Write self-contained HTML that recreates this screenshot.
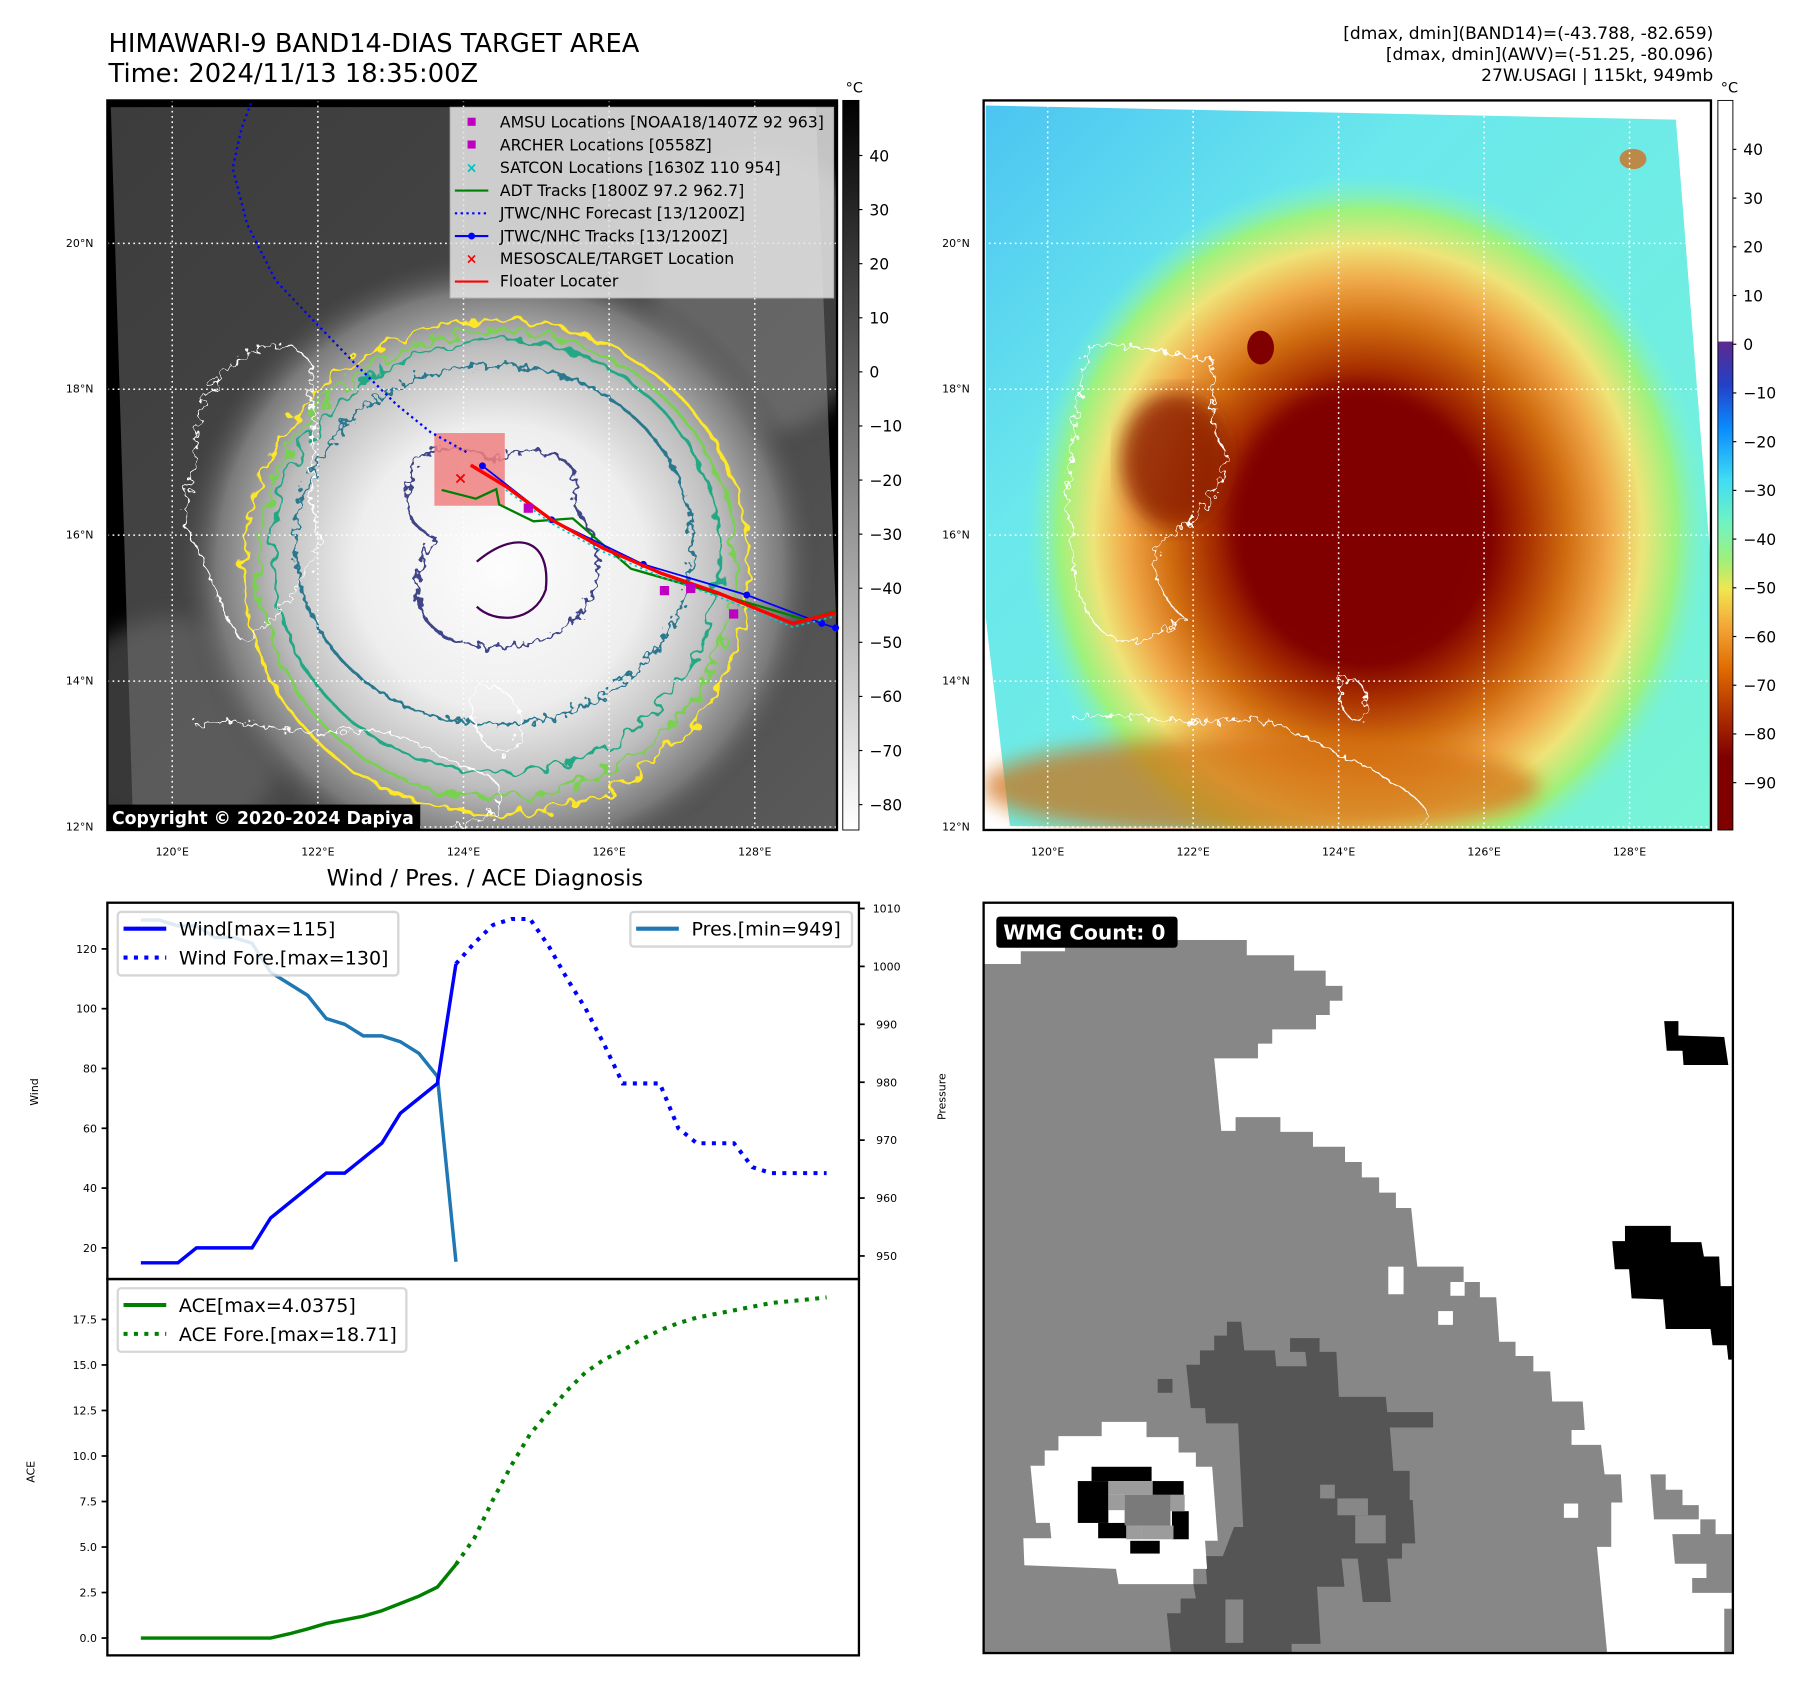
<!DOCTYPE html>
<html><head><meta charset="utf-8"><title>HIMAWARI-9 BAND14 Diagnosis</title>
<style>html,body{margin:0;padding:0;background:#fff;}svg{display:block;font-family:"DejaVu Sans","Liberation Sans",sans-serif;}</style>
</head><body>
<svg id="fig" xmlns="http://www.w3.org/2000/svg" width="1801" height="1690" viewBox="0 0 1560 1464" preserveAspectRatio="none">
<defs>
  <filter id="wavy" x="-10%" y="-10%" width="120%" height="120%">
    <feTurbulence type="fractalNoise" baseFrequency="0.035" numOctaves="2" seed="3"/>
    <feDisplacementMap in="SourceGraphic" scale="40"/>
  </filter>
  <filter id="wavy2" x="-10%" y="-10%" width="120%" height="120%">
    <feTurbulence type="fractalNoise" baseFrequency="0.07" numOctaves="2" seed="7"/>
    <feDisplacementMap in="SourceGraphic" scale="30"/>
  </filter>
  <filter id="blur8"><feGaussianBlur stdDeviation="18"/></filter>
  <radialGradient id="cloud" cx="870" cy="1010" r="560" gradientUnits="userSpaceOnUse">
    <stop offset="0" stop-color="#fdfdfd"/><stop offset="0.45" stop-color="#eeeeee"/>
    <stop offset="0.7" stop-color="#bdbdbd"/><stop offset="0.88" stop-color="#7a7a7a"/>
    <stop offset="1" stop-color="#4a4a4a" stop-opacity="0"/>
  </radialGradient>
  <linearGradient id="irbg" x1="0" y1="0" x2="1" y2="1">
    <stop offset="0" stop-color="#3c3c3c"/><stop offset="0.6" stop-color="#484848"/><stop offset="1" stop-color="#5a5a5a"/>
  </linearGradient>
  <linearGradient id="awvbg" x1="0" y1="0" x2="1" y2="1">
    <stop offset="0" stop-color="#4cc4f2"/><stop offset="0.3" stop-color="#6ae8ec"/><stop offset="1" stop-color="#78f4d6"/>
  </linearGradient>
  <radialGradient id="storm" cx="760" cy="950" r="640" gradientUnits="userSpaceOnUse">
    <stop offset="0" stop-color="#800000"/><stop offset="0.36" stop-color="#820200"/>
    <stop offset="0.46" stop-color="#a83000"/><stop offset="0.58" stop-color="#d06c10"/>
    <stop offset="0.7" stop-color="#f0a848"/><stop offset="0.8" stop-color="#eee478"/>
    <stop offset="0.9" stop-color="#9cf27e"/><stop offset="1" stop-color="#78f4d6" stop-opacity="0"/>
  </radialGradient>
  <linearGradient id="cbgray" x1="0" y1="0" x2="0" y2="1">
    <stop offset="0" stop-color="#000"/><stop offset="1" stop-color="#fff"/>
  </linearGradient>
  <linearGradient id="cbawv" x1="0" y1="0" x2="0" y2="1">
    <stop offset="0" stop-color="#ffffff"/><stop offset="0.33" stop-color="#ffffff"/>
    <stop offset="0.331" stop-color="#5b2a8e"/><stop offset="0.39" stop-color="#2440c8"/>
    <stop offset="0.45" stop-color="#0a8cff"/><stop offset="0.52" stop-color="#40dcf4"/>
    <stop offset="0.58" stop-color="#70f4c0"/><stop offset="0.63" stop-color="#a0f07a"/>
    <stop offset="0.67" stop-color="#f0e650"/><stop offset="0.72" stop-color="#f4a838"/>
    <stop offset="0.78" stop-color="#e06a00"/><stop offset="0.85" stop-color="#a82800"/>
    <stop offset="0.9" stop-color="#800000"/><stop offset="1" stop-color="#800000"/>
  </linearGradient>
  <clipPath id="clipL"><rect x="187" y="180" width="1270" height="1297"/></clipPath>
  <clipPath id="clipR"><rect x="43" y="181" width="1357" height="1296"/></clipPath>
</defs>

<!-- Titles -->
<text x="94" y="45" font-size="22.3">HIMAWARI-9 BAND14-DIAS TARGET AREA</text>
<text x="94" y="71" font-size="22.3">Time: 2024/11/13 18:35:00Z</text>
<g font-size="14.8" text-anchor="end">
  <text x="1484" y="34">[dmax, dmin](BAND14)=(-43.788, -82.659)</text>
  <text x="1484" y="52">[dmax, dmin](AWV)=(-51.25, -80.096)</text>
  <text x="1484" y="70">27W.USAGI | 115kt, 949mb</text>
</g>

<!-- LEFT MAP -->
<g transform="translate(93,87) scale(0.49764,0.48728) translate(-187,-180)">
  <g clip-path="url(#clipL)">
    <rect x="187" y="180" width="1270" height="1297" fill="#000"/>
    <polygon points="193,192 1420,192 1456,1110 1456,1477 232,1477" fill="url(#irbg)"/>
    <ellipse cx="1330" cy="520" rx="200" ry="250" fill="#8a8a8a" opacity="0.45" filter="url(#blur8)"/>
    <ellipse cx="300" cy="1300" rx="200" ry="200" fill="#707070" opacity="0.5" filter="url(#blur8)"/>
    <ellipse cx="870" cy="1010" rx="560" ry="560" fill="url(#cloud)"/>
    <g fill="none" stroke-width="5">
      <ellipse cx="865" cy="1010" rx="440" ry="440" stroke="#fde725" filter="url(#wavy)"/>
      <ellipse cx="865" cy="1005" rx="415" ry="415" stroke="#7ad151" filter="url(#wavy)"/>
      <ellipse cx="865" cy="990" rx="390" ry="385" stroke="#22a884" filter="url(#wavy)"/>
      <ellipse cx="860" cy="970" rx="345" ry="320" stroke="#2a788e" filter="url(#wavy2)"/>
      <path d="M720,860 C700,800 790,780 860,820 C960,780 1020,820 1000,900 C1080,1000 1040,1150 870,1150 C730,1160 690,1050 760,960 C700,930 700,890 720,860 Z" stroke="#414487" filter="url(#wavy2)"/>
      <path d="M830,1000 C900,940 960,960 950,1050 C930,1110 860,1110 830,1080" stroke="#440154" stroke-width="4"/>
    </g>
    <g fill="none" stroke="#fff" stroke-width="2.5" filter="url(#wavy2)">
      <path d="M460,620 C520,600 560,650 540,700 C560,800 520,880 560,960 C520,1050 470,1120 420,1140 C390,1100 360,1000 330,950 C300,900 350,850 340,780 C350,700 390,640 460,620 Z"/>
      <path d="M340,1290 C450,1270 520,1320 600,1300 C700,1290 760,1350 850,1380 C900,1420 860,1470 780,1470"/>
      <path d="M820,1230 C880,1200 920,1260 900,1330 C860,1360 820,1320 820,1230 Z"/>
    </g>
  </g>
</g>

<!-- RIGHT MAP -->
<g transform="translate(852,87) scale(0.4641,0.48765) translate(-43,-181)">
  <g clip-path="url(#clipR)">
    <rect x="43" y="181" width="1357" height="1296" fill="#fff"/>
    <polygon points="47,190 1335,215 1400,1000 1400,1477 92,1470 47,1100" fill="url(#awvbg)"/>
    <ellipse cx="760" cy="950" rx="640" ry="640" fill="url(#storm)"/>
    <ellipse cx="560" cy="1400" rx="520" ry="90" fill="#d06c10" opacity="0.7" filter="url(#blur8)"/>
    <ellipse cx="740" cy="930" rx="230" ry="240" fill="#800000" filter="url(#blur8)"/>
    <ellipse cx="400" cy="820" rx="100" ry="120" fill="#8a1a00" opacity="0.8" filter="url(#blur8)"/>
    <ellipse cx="1255" cy="285" rx="25" ry="18" fill="#d07020" opacity="0.8"/>
    <ellipse cx="560" cy="620" rx="25" ry="30" fill="#800000"/>
    <g fill="none" stroke="#fff" stroke-width="2.5" filter="url(#wavy2)">
      <path d="M240,620 C320,600 440,650 470,640 C480,700 450,760 500,810 C470,900 430,940 380,960 C340,1000 380,1080 420,1100 C360,1140 300,1160 260,1120 C220,1080 200,1000 210,940 C180,900 210,850 210,780 C220,700 230,660 240,620 Z"/>
      <path d="M210,1280 C330,1260 420,1300 500,1280 C600,1270 680,1340 750,1360 C820,1400 900,1440 860,1470"/>
      <path d="M710,1210 C750,1200 770,1240 750,1280 C720,1290 700,1250 710,1210 Z"/>
    </g>
  </g>
</g>

<g id="mapOverlays"></g>

<!-- BOTTOM-RIGHT WMG -->
<g transform="translate(852,782) scale(0.4409,0.4422) translate(-45,-45)">
  <rect x="45" y="45" width="1472" height="1470" fill="#fff"/>
  <polygon fill="#878787" points="45,165 118,165 118,140 205,140 205,118 562,118 562,148 655,148 655,178 717,178 717,208 750,208 750,237 725,237 725,265 698,265 698,293 612,293 612,321 584,321 584,350 498,350 512,492 540,492 540,465 628,465 628,494 692,494 692,523 755,523 755,553 788,553 788,583 822,583 822,613 855,613 855,643 885,643 897,758 988,758 988,788 1020,788 1020,818 1052,818 1058,905 1090,905 1090,933 1125,933 1125,963 1158,963 1162,1022 1222,1022 1226,1078 1200,1078 1200,1107 1258,1107 1265,1165 1297,1165 1300,1220 1278,1220 1278,1307 1250,1307 1270,1515 45,1515"/>
  <polygon fill="#878787" points="1355,1165 1385,1165 1385,1195 1418,1195 1418,1225 1450,1225 1450,1253 1483,1253 1483,1282 1515,1282 1515,1397 1437,1397 1437,1368 1465,1368 1465,1340 1403,1340 1398,1282 1453,1282 1453,1253 1362,1253"/>
  <rect x="1500" y="1428" width="15" height="87" fill="#878787"/>
  <g fill="#fff"><rect x="840" y="758" width="30" height="54"/><rect x="962" y="788" width="28" height="27"/><rect x="938" y="845" width="29" height="27"/><rect x="1185" y="1222" width="28" height="28"/></g>
  <polygon fill="#555" points="523,866 551,866 557,922 617,922 620,953 680,953 677,925 647,925 647,898 705,898 705,925 738,925 743,1013 835,1013 838,1043 928,1043 928,1073 843,1073 850,1158 882,1158 882,1215 888,1215 893,1300 867,1300 867,1330 838,1330 845,1415 790,1415 780,1330 748,1330 754,1385 700,1385 707,1497 650,1497 650,1515 413,1515 405,1437 432,1437 432,1408 462,1408 457,1380 484,1380 480,1325 515,1325 537,1268 555,1268 545,1065 482,1065 480,1035 452,1035 443,950 470,950 470,922 498,922 498,893 523,893"/>
  <rect x="387" y="978" width="29" height="27" fill="#555"/>
  <g fill="#878787"><rect x="706" y="1185" width="29" height="27"/><rect x="740" y="1212" width="60" height="33"/><rect x="775" y="1245" width="60" height="55"/><rect x="520" y="1410" width="35" height="85"/></g>
  <polygon fill="#fff" points="137,1148 165,1148 165,1118 192,1118 192,1090 277,1090 277,1062 365,1062 365,1092 428,1092 428,1122 462,1122 462,1150 494,1150 505,1295 480,1295 484,1350 457,1350 457,1380 310,1380 305,1350 125,1343 123,1290 178,1290 175,1260 148,1260"/>
  <g fill="#000"><rect x="257" y="1150" width="118" height="28"/><rect x="230" y="1178" width="60" height="82"/><rect x="270" y="1260" width="60" height="30"/><rect x="377" y="1178" width="61" height="27"/><rect x="415" y="1237" width="33" height="55"/><rect x="333" y="1295" width="58" height="25"/></g>
  <g fill="#9c9c9c"><rect x="290" y="1178" width="87" height="27"/><rect x="290" y="1205" width="32" height="30"/><rect x="325" y="1235" width="30" height="57"/><rect x="355" y="1265" width="63" height="27"/><rect x="412" y="1205" width="28" height="32"/></g>
  <rect x="322" y="1205" width="90" height="60" fill="#7a7a7a"/>
  <polygon fill="#000" points="1382,277 1410,277 1410,305 1500,308 1508,363 1420,363 1418,335 1387,335"/>
  <polygon fill="#000" points="1305,678 1395,678 1395,710 1455,710 1460,738 1490,738 1493,796 1515,796 1515,940 1508,940 1505,912 1477,912 1473,880 1385,880 1380,822 1318,820 1313,763 1285,763 1280,708 1305,708"/>
</g>
<rect x="852" y="782" width="649" height="650" fill="none" stroke="#000" stroke-width="2"/>
<rect x="863" y="794" width="157" height="27" rx="3" fill="#000"/>
<text x="869" y="814" font-size="17.5" font-weight="bold" fill="#fff">WMG Count: 0</text>

<g id="charts"></g>

<script>
// ===== Chart data (Wind / Pres / ACE) =====
const windObs = [15,15,15,20,20,20,20,30,35,40,45,45,50,55,65,70,75,115];
const windFore = [115,122,128,130,130,121,110,100,88,75,75,75,60,55,55,55,47,45,45,45,45];
const presObs = [1008,1008,1007,1007,1005,1005,1004,999,997,995,991,990,988,988,987,985,981,949];
const aceObs = [0,0,0,0,0,0,0,0,0.23,0.5,0.8,1.0,1.2,1.5,1.9,2.3,2.8,4.04];
const aceFore = [4.04,5.5,7.6,9.5,11.2,12.4,13.6,14.6,15.3,15.8,16.4,16.9,17.3,17.6,17.8,18.0,18.2,18.4,18.5,18.6,18.71];
const windTicks = [20,40,60,80,100,120];
const presTicks = [950,960,970,980,990,1000,1010];
const aceTicks = [0,2.5,5,7.5,10,12.5,15,17.5];
const nPoints = 38;
// ===== Map data (lon/lat) =====
const forecastLon = [124.04,123.55,123.08,122.52,121.97,121.42,121.03,120.83,120.95,121.08];
const forecastLat = [17.14,17.41,17.79,18.34,18.91,19.49,20.26,21.03,21.57,21.92];
const floaterLon = [124.10,124.58,125.21,125.92,126.71,127.49,128.52,129.11];
const floaterLat = [16.96,16.67,16.21,15.82,15.48,15.21,14.79,14.94];
const jtwcLon = [124.26,125.21,126.47,127.89,128.92,129.11];
const jtwcLat = [16.95,16.21,15.60,15.18,14.79,14.73];
const adtLon = [123.7,124.17,124.45,124.49,124.96,125.5,126.3,127.1,128.7,129.1];
const adtLat = [16.62,16.50,16.63,16.42,16.19,16.23,15.54,15.31,14.84,14.96];
const amsuLon = [126.76,127.12,127.71,124.89];
const amsuLat = [15.24,15.27,14.92,16.37];
const targetLon = [123.96];
const targetLat = [16.79];
const lonTicks = [120,122,124,126,128];
const latTicks = [12,14,16,18,20];
const cbIRTicks = [40,30,20,10,0,-10,-20,-30,-40,-50,-60,-70,-80];
const cbAWVTicks = [40,30,20,10,0,-10,-20,-30,-40,-50,-60,-70,-80,-90];

const NS='http://www.w3.org/2000/svg';
function mk(parent, tag, attrs, text){const e=document.createElementNS(NS,tag);for(const k in attrs)e.setAttribute(k,attrs[k]);if(text!==undefined)e.textContent=text;parent.appendChild(e);return e;}
const C=document.getElementById('charts');
const M=document.getElementById('mapOverlays');

const mapLx=lon=>149.2+(lon-120)*63.07;
const mapRx=lon=>907.5+(lon-120)*63.0;
const mapY=lat=>210.8-(lat-20)*63.2;

[[93,725,mapLx,'left'],[852,1482,mapRx,'right']].forEach(([x0,x1,fx,side])=>{
  lonTicks.forEach(l=>{
    const g=mk(M,'line',{x1:fx(l),x2:fx(l),y1:87,y2:719,stroke:'#fff','stroke-width':1.3,'stroke-dasharray':'1.5,3'});
    
    
    const t=mk(M,'text',{x:fx(l),y:741,'font-size':9.5,'text-anchor':'middle'},l+'°E');
    
    
  });
  latTicks.forEach(l=>{
    const g=mk(M,'line',{x1:x0,x2:x1,y1:mapY(l),y2:mapY(l),stroke:'#fff','stroke-width':1.3,'stroke-dasharray':'1.5,3'});
    
    
    const t=mk(M,'text',{x:x0-12,y:Math.min(mapY(l),719)+3,'font-size':9.5,'text-anchor':'end'},l+'°N');
    
    
  });
  const f=mk(M,'rect',{x:x0,y:87,width:x1-x0,height:632,fill:'none',stroke:'#000','stroke-width':2});
  
  
});

const box=mk(M,'rect',{x:mapLx(123.6),y:mapY(17.4),width:61,height:63,fill:'#f08080',opacity:0.85});


function polyline(lons,lats,attrs,name){const pts=lons.map((l,i)=>mapLx(l)+','+mapY(lats[i])).join(' ');const p=mk(M,'polyline',Object.assign({points:pts,fill:'none'},attrs));return p;}
polyline(forecastLon,forecastLat,{stroke:'#0000ff','stroke-width':2,'stroke-dasharray':'2,3'},'jtwc-forecast-track');
polyline(adtLon,adtLat,{stroke:'#008000','stroke-width':2},'adt-track');
polyline(jtwcLon,jtwcLat,{stroke:'#0000ff','stroke-width':1.5},'jtwc-track');
jtwcLon.forEach((l,i)=>{const c=mk(M,'circle',{cx:mapLx(l),cy:mapY(jtwcLat[i]),r:3,fill:'#0000ff'});});
polyline(floaterLon,floaterLat,{stroke:'#ff0000','stroke-width':3},'floater-track');
polyline(floaterLon.slice(1),floaterLat.slice(1).map(v=>v-0.05),{stroke:'#00c8c8','stroke-width':1.5,'stroke-dasharray':'2,3'},'satcon-points');
amsuLon.forEach((l,i)=>{const r=mk(M,'rect',{x:mapLx(l)-4,y:mapY(amsuLat[i])-4,width:8,height:8,fill:'#c000c0'});});
targetLon.forEach((l,i)=>{const t=mk(M,'text',{x:mapLx(l),y:mapY(targetLat[i])+5,'font-size':14,'font-weight':'bold',fill:'#ff0000','text-anchor':'middle'},'×');});

const lg=mk(M,'rect',{x:390,y:93,width:332,height:165,fill:'#e6e6e6',opacity:0.85,stroke:'#ccc'});


const legItems=[['sq','#c000c0','AMSU Locations [NOAA18/1407Z 92 963]'],['sq','#c000c0','ARCHER Locations [0558Z]'],['x','#00c0c0','SATCON Locations [1630Z 110 954]'],['line','#008000','ADT Tracks [1800Z 97.2 962.7]'],['dot','#0000ff','JTWC/NHC Forecast [13/1200Z]'],['lm','#0000ff','JTWC/NHC Tracks [13/1200Z]'],['x','#ff0000','MESOSCALE/TARGET Location'],['line','#ff0000','Floater Locater']];
legItems.forEach((it,i)=>{
  const y=106+i*19.7;
  if(it[0]==='sq')mk(M,'rect',{x:405,y:y-4,width:7,height:7,fill:it[1]});
  else if(it[0]==='x')mk(M,'text',{x:408.5,y:y+4,'font-size':12,'font-weight':'bold',fill:it[1],'text-anchor':'middle'},'×');
  else{mk(M,'line',{x1:394,x2:423,y1:y,y2:y,stroke:it[1],'stroke-width':1.8,'stroke-dasharray':it[0]==='dot'?'2,3':'none'});if(it[0]==='lm')mk(M,'circle',{cx:408.5,cy:y,r:3,fill:it[1]});}
  const t=mk(M,'text',{x:433,y:y+4.5,'font-size':13.6},it[2]);
  
  
});
const cr=mk(M,'rect',{x:93,y:697,width:271,height:22,fill:'#000'});


const crt=mk(M,'text',{x:97,y:714,'font-size':15,'font-weight':'bold',fill:'#fff'},'Copyright © 2020-2024 Dapiya');



function colorbar(x,w,fill,ticks,y40,per10,name){
  const r=mk(M,'rect',{x:x,y:87,width:w,height:632,fill:fill,stroke:'#000','stroke-width':0.8});
  
  
  const u=mk(M,'text',{x:x+10,y:80,'font-size':12.5,'text-anchor':'middle'},'°C');
  
  
  ticks.forEach(v=>{const y=y40+(40-v)/10*per10;mk(M,'line',{x1:x+w,x2:x+w+3,y1:y,y2:y,stroke:'#000'});
    const t=mk(M,'text',{x:x+w+9,y:y+5,'font-size':13.5},(v<0?'−':'')+Math.abs(v));
    
    });
}
colorbar(730,14,'url(#cbgray)',cbIRTicks,134.7,46.86,'ir-colorbar');
colorbar(1488,13,'url(#cbawv)',cbAWVTicks,129.4,42.2,'awv-colorbar');

// ===== Wind / Pres / ACE chart =====
const AX={l:93,r:744,t:782,m:1108,b:1434};
const xs=i=>122+i*(716-122)/(nPoints-1);
const yWind=v=>822+(120-v)*(1081-822)/100;
const yPres=v=>787+(1010-v)*(1088-787)/60;
const yAce=v=>1419-v*(1419-1143)/17.5;
const ct=mk(C,'text',{x:420,y:767,'font-size':19.5,'text-anchor':'middle'},'Wind / Pres. / ACE Diagnosis');


function line(vals,off,fy,attrs,name){const p=mk(C,'polyline',Object.assign({points:vals.map((v,i)=>xs(i+off)+','+fy(v)).join(' '),fill:'none'},attrs));}
line(presObs,0,yPres,{stroke:'#1f77b4','stroke-width':3},'pressure-line');
line(windObs,0,yWind,{stroke:'#0000ff','stroke-width':3},'wind-line');
line(windFore,windObs.length-1,yWind,{stroke:'#0000ff','stroke-width':3.5,'stroke-dasharray':'3.5,5.5'},'wind-forecast-line');
line(aceObs,0,yAce,{stroke:'#008000','stroke-width':3},'ace-line');
line(aceFore,aceObs.length-1,yAce,{stroke:'#008000','stroke-width':3.5,'stroke-dasharray':'3.5,5.5'},'ace-forecast-line');
[[AX.t,AX.m,'wind-axes'],[AX.m,AX.b,'ace-axes']].forEach(([t,b,n])=>{const r=mk(C,'rect',{x:AX.l,y:t,width:AX.r-AX.l,height:b-t,fill:'none',stroke:'#000','stroke-width':2});});
windTicks.forEach(v=>{const y=yWind(v);mk(C,'line',{x1:AX.l-5,x2:AX.l,y1:y,y2:y,stroke:'#000','stroke-width':1.5});const t=mk(C,'text',{x:AX.l-9,y:y+3.5,'font-size':9.5,'text-anchor':'end'},v);});
presTicks.forEach(v=>{const y=yPres(v);mk(C,'line',{x1:AX.r,x2:AX.r+5,y1:y,y2:y,stroke:'#000','stroke-width':1.5});const t=mk(C,'text',{x:AX.r+24,y:y+3.5,'font-size':9.5,'text-anchor':'middle'},v);});
aceTicks.forEach(v=>{const y=yAce(v);mk(C,'line',{x1:AX.l-5,x2:AX.l,y1:y,y2:y,stroke:'#000','stroke-width':1.5});const t=mk(C,'text',{x:AX.l-9,y:y+3.5,'font-size':9.5,'text-anchor':'end'},v.toFixed(1));});
[['Wind',33,946,'wind-axis-title'],['Pressure',819,950,'pressure-axis-title'],['ACE',30,1275,'ace-axis-title']].forEach(([s,x,y,n])=>{const t=mk(C,'text',{x:x,y:y,'font-size':9.5,'text-anchor':'middle',transform:`rotate(-90 ${x} ${y})`},s);});
function legend(x,y,w,h,items,name){
  const r=mk(C,'rect',{x:x,y:y,width:w,height:h,rx:3,fill:'#fff',opacity:0.85,stroke:'#d0d0d0','stroke-width':2});
  
  
  items.forEach((it,i)=>{const yy=y+14.5+i*25;mk(C,'line',{x1:x+5,x2:x+42,y1:yy,y2:yy,stroke:it[0],'stroke-width':3.5,'stroke-dasharray':it[1]?'3.5,5.5':'none'});
    const t=mk(C,'text',{x:x+53,y:yy+6,'font-size':16.5},it[2]);
    
    });
}
legend(102,790,243,55,[['#0000ff',false,'Wind[max=115]'],['#0000ff',true,'Wind Fore.[max=130]']],'wind-legend');
legend(546,790,192,30,[['#1f77b4',false,'Pres.[min=949]']],'pressure-legend');
legend(102,1116,250,55,[['#008000',false,'ACE[max=4.0375]'],['#008000',true,'ACE Fore.[max=18.71]']],'ace-legend');
</script>
</svg>
</body></html>
